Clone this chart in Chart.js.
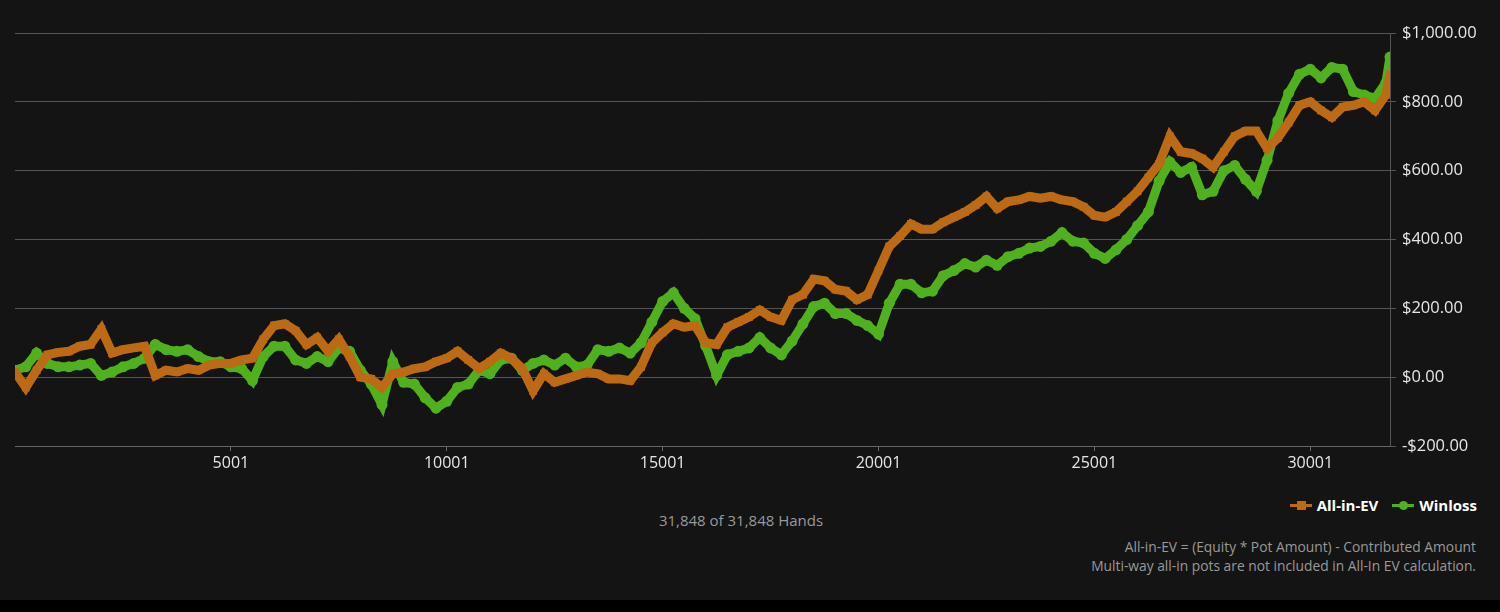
<!DOCTYPE html>
<html>
<head>
<meta charset="utf-8">
<script src="https://cdn.jsdelivr.net/npm/chart.js@4"></script>
<style>
    html, body { margin: 0; padding: 0; background: #141414; width: 1500px; height: 612px; overflow: hidden; font-family: "Open Sans", sans-serif; }
    #wrap { position: absolute; left: 0; top: 0; width: 1500px; height: 480px; }
    .legende { position: absolute; top: 495px; right: 23px; color: #fff; font-weight: bold; font-size: 15px; }
    .legende span { display: inline-block; margin-left: 10px; }
    .marq { display: inline-block; position: relative; width: 22px; height: 3px; vertical-align: middle; margin-right: 5px; top: -1px; }
    .marq i { position: absolute; left: 7px; top: -3px; width: 9px; height: 9px; }
    .hands { position: absolute; top: 510px; width: 1482px; text-align: center; color: #999; font-size: 15px; }
    .note { position: absolute; top: 537px; right: 24px; text-align: right; color: #999; font-size: 13.8px; line-height: 19px; }
    .bas { position: absolute; left: 0; top: 600px; width: 1500px; height: 12px; background: #000; }
</style>
</head>
<body>
<div id="wrap"><canvas id="graphe"></canvas></div>
<div class="legende">
    <span><b class="marq" style="background:#bd6a14"><i style="background:#bd6a14"></i></b>All-in-EV</span>
    <span><b class="marq" style="background:#50b01e"><i style="background:#50b01e;border-radius:50%"></i></b>Winloss</span>
</div>
<div class="hands">31,848 of 31,848 Hands</div>
<div class="note">All-in-EV = (Equity * Pot Amount) - Contributed Amount<br>Multi-way all-in pots are not included in All-In EV calculation.</div>
<div class="bas"></div>
<script>
// numero de main (axe x)
const mains = [1, 251, 501, 751, 1001, 1251, 1501, 1751, 2001, 2251,
    2501, 2751, 3001, 3251, 3501, 3751, 4001, 4251, 4501, 4751,
    5001, 5251, 5501, 5751, 6001, 6251, 6501, 6751, 7001, 7251,
    7501, 7751, 8001, 8251, 8501, 8751, 9001, 9251, 9501, 9751,
    10001, 10251, 10501, 10751, 11001, 11251, 11501, 11751, 12001, 12251,
    12501, 12751, 13001, 13251, 13501, 13751, 14001, 14251, 14501, 14751,
    15001, 15251, 15501, 15751, 16001, 16251, 16501, 16751, 17001, 17251,
    17501, 17751, 18001, 18251, 18501, 18751, 19001, 19251, 19501, 19751,
    20001, 20251, 20501, 20751, 21001, 21251, 21501, 21751, 22001, 22251,
    22501, 22751, 23001, 23251, 23501, 23751, 24001, 24251, 24501, 24751,
    25001, 25251, 25501, 25751, 26001, 26251, 26501, 26751, 27001, 27251,
    27501, 27751, 28001, 28251, 28501, 28751, 29001, 29251, 29501, 29751,
    30001, 30251, 30501, 30751, 31001, 31251, 31501, 31751, 31848];

// All-in-EV en $
const allinEV = [15, -30, 20, 65, 72, 75, 90, 95, 140, 70,
    80, 85, 90, 5, 20, 15, 25, 20, 35, 40,
    40, 50, 55, 110, 150, 155, 135, 95, 115, 75,
    110, 60, 0, -5, -30, 10, 15, 25, 30, 45,
    55, 75, 50, 25, 45, 70, 55, 25, -40, 10,
    -15, -5, 5, 15, 10, -5, -5, -10, 30, 100,
    130, 155, 145, 150, 100, 95, 145, 160, 175, 195,
    175, 165, 225, 240, 285, 280, 255, 250, 225, 240,
    310, 380, 410, 445, 430, 430, 450, 465, 480, 500,
    525, 490, 510, 515, 525, 520, 525, 515, 510, 495,
    470, 465, 480, 510, 540, 580, 620, 700, 655, 650,
    635, 610, 655, 700, 715, 715, 665, 695, 740, 790,
    800, 775, 755, 785, 790, 800, 775, 820, 880];

// Winloss en $
const winloss = [20, 30, 70, 40, 30, 30, 35, 40, 5, 15,
    30, 40, 55, 95, 80, 75, 80, 60, 45, 45,
    30, 25, -10, 60, 90, 90, 50, 40, 60, 45,
    85, 75, 20, -20, -80, 45, -15, -20, -60, -90,
    -70, -30, -20, 20, 10, 50, 55, 20, 40, 50,
    35, 55, 30, 35, 80, 75, 85, 70, 100, 160,
    220, 245, 200, 170, 90, 5, 65, 75, 85, 115,
    85, 65, 105, 155, 205, 215, 185, 185, 165, 150,
    125, 215, 270, 270, 245, 250, 295, 310, 330, 320,
    340, 325, 350, 360, 375, 380, 395, 420, 395, 390,
    360, 345, 370, 400, 440, 480, 570, 625, 595, 610,
    530, 540, 600, 615, 575, 540, 630, 745, 825, 880,
    895, 870, 900, 895, 830, 820, 810, 855, 930];

const ticksX = [5001, 10001, 15001, 20001, 25001, 30001];
const legende = ['All-in-EV', 'Winloss'];
const couleurs = ['rgb(189, 106, 20)', 'rgb(80, 176, 30)'];

function points(x, y) {
    return x.map((v, i) => ({ x: v, y: y[i] }));
}

function serie(label, valeurs, couleur, forme) {
    return {
        label: label,
        data: points(mains, valeurs),
        borderColor: couleur,
        backgroundColor: couleur,
        borderWidth: 9,
        pointRadius: 5.5,
        pointStyle: forme,
        pointBorderWidth: 0,
        tension: 0
    };
}

function dollars(v) {
    const s = '$' + Math.abs(v).toLocaleString('en-US', { minimumFractionDigits: 2, maximumFractionDigits: 2 });
    return v < 0 ? '-' + s : s;
}

const ctx = document.getElementById('graphe');
new Chart(ctx, {
    type: 'line',
    data: {
        datasets: [
            serie(legende[0], allinEV, couleurs[0], 'rect'),
            serie(legende[1], winloss, couleurs[1], 'circle')
        ]
    },
    options: {
        responsive: true,
        maintainAspectRatio: false,
        animation: false,
        layout: { padding: { left: 15, top: 33, right: 0, bottom: 0 } },
        plugins: {
            legend: { display: false },
            tooltip: { enabled: false }
        },
        scales: {
            x: {
                type: 'linear',
                min: 1,
                max: 31848,
                afterBuildTicks: (axe) => { axe.ticks = ticksX.map(v => ({ value: v })); },
                afterFit: (axe) => { axe.height = 34; },
                grid: { drawOnChartArea: false, color: '#666', tickLength: 5 },
                border: { color: '#666' },
                ticks: {
                    color: '#e6e6e6',
                    font: { family: 'Open Sans', size: 16 },
                    maxRotation: 0,
                    padding: 3,
                    callback: (v) => String(v)
                }
            },
            y: {
                position: 'right',
                min: -200,
                max: 1000,
                afterFit: (axe) => { axe.width = 110; },
                grid: { color: '#555', tickLength: 6 },
                border: { color: '#555' },
                ticks: {
                    stepSize: 200,
                    color: '#e6e6e6',
                    font: { family: 'Open Sans', size: 16.5 },
                    padding: 6,
                    callback: (v) => dollars(v)
                }
            }
        }
    }
});
</script>
</body>
</html>
